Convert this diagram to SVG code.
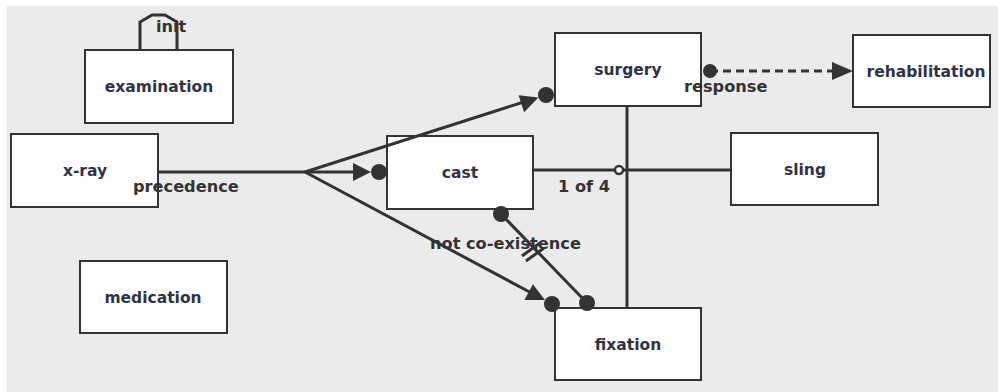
<svg xmlns="http://www.w3.org/2000/svg" width="998" height="392" viewBox="0 0 998 392">
<style>
.n rect{fill:#fff;stroke:#333;stroke-width:2}
.n text{font-family:"DejaVu Sans",sans-serif;font-weight:bold;font-size:15.5px;fill:#2f3347;text-anchor:middle}
.e{stroke:#333;stroke-width:3;fill:none}
.lbl{font-family:"DejaVu Sans",sans-serif;font-weight:bold;font-size:16.2px;fill:#333}
.dot{fill:#333}
.tri{fill:#333}
</style>
<rect x="0" y="0" width="998" height="392" fill="#fff"/>
<rect x="7" y="6" width="991" height="386" fill="#ebebeb"/>
<g id="examination" class="n"><rect x="85" y="50" width="148" height="73"/><text x="159" y="92">examination</text></g>
<g id="x-ray" class="n"><rect x="11" y="134" width="147" height="73"/><text x="85" y="176">x-ray</text></g>
<g id="medication" class="n"><rect x="80" y="261" width="147" height="72"/><text x="153" y="303">medication</text></g>
<g id="cast" class="n"><rect x="387" y="136" width="146" height="73"/><text x="460" y="178">cast</text></g>
<g id="surgery" class="n"><rect x="555" y="33" width="146" height="73"/><text x="628" y="75">surgery</text></g>
<g id="rehabilitation" class="n"><rect x="853" y="35" width="137" height="72"/><text x="926" y="77">rehabilitation</text></g>
<g id="sling" class="n"><rect x="731" y="133" width="147" height="72"/><text x="805" y="175">sling</text></g>
<g id="fixation" class="n"><rect x="555" y="308" width="146" height="72"/><text x="628" y="350">fixation</text></g>
<g id="connectors">
<path class="e" d="M140,50 V22 L152,15 L165,15 L177,22 V50"/>
<path class="e" d="M158,172 H305"/>
<path class="e" d="M305,172 L360,172"/>
<polygon class="tri" points="371,172 353,163 353,181"/>
<circle class="dot" cx="379" cy="172" r="8"/>
<path class="e" d="M305,172 L530,100"/>
<polygon class="tri" points="538.4,97.4 518.6,95.2 524.1,112.3"/>
<circle class="dot" cx="546" cy="95" r="8"/>
<path class="e" d="M305,172 L537,296"/>
<polygon class="tri" points="545,300 532.9,284.2 524.4,300.1"/>
<circle class="dot" cx="552" cy="304" r="8"/>
<path class="e" d="M501,214 L587,303" stroke-width="2.5"/>
<circle class="dot" cx="501" cy="214" r="8"/>
<circle class="dot" cx="587" cy="303" r="8"/>
<path class="e" d="M522,256 L540,243 M526,261 L544,248" stroke-width="2"/>
<path class="e" d="M533,170 H615 M623,170 H731"/>
<circle cx="619" cy="170" r="4" fill="#fff" stroke="#333" stroke-width="2.5"/>
<path class="e" d="M627,106 V308"/>
<path class="e" d="M710,71 H834" stroke-dasharray="8 5"/>
<polygon class="tri" points="853,71 832,62 832,80"/>
<circle class="dot" cx="710" cy="71" r="7"/>
<text class="lbl" x="156" y="32">init</text>
<text class="lbl" x="133" y="192">precedence</text>
<text class="lbl" x="430" y="249">not co-existence</text>
<text class="lbl" x="558" y="192">1 of 4</text>
<text class="lbl" x="684" y="92">response</text>
</g>
</svg>
